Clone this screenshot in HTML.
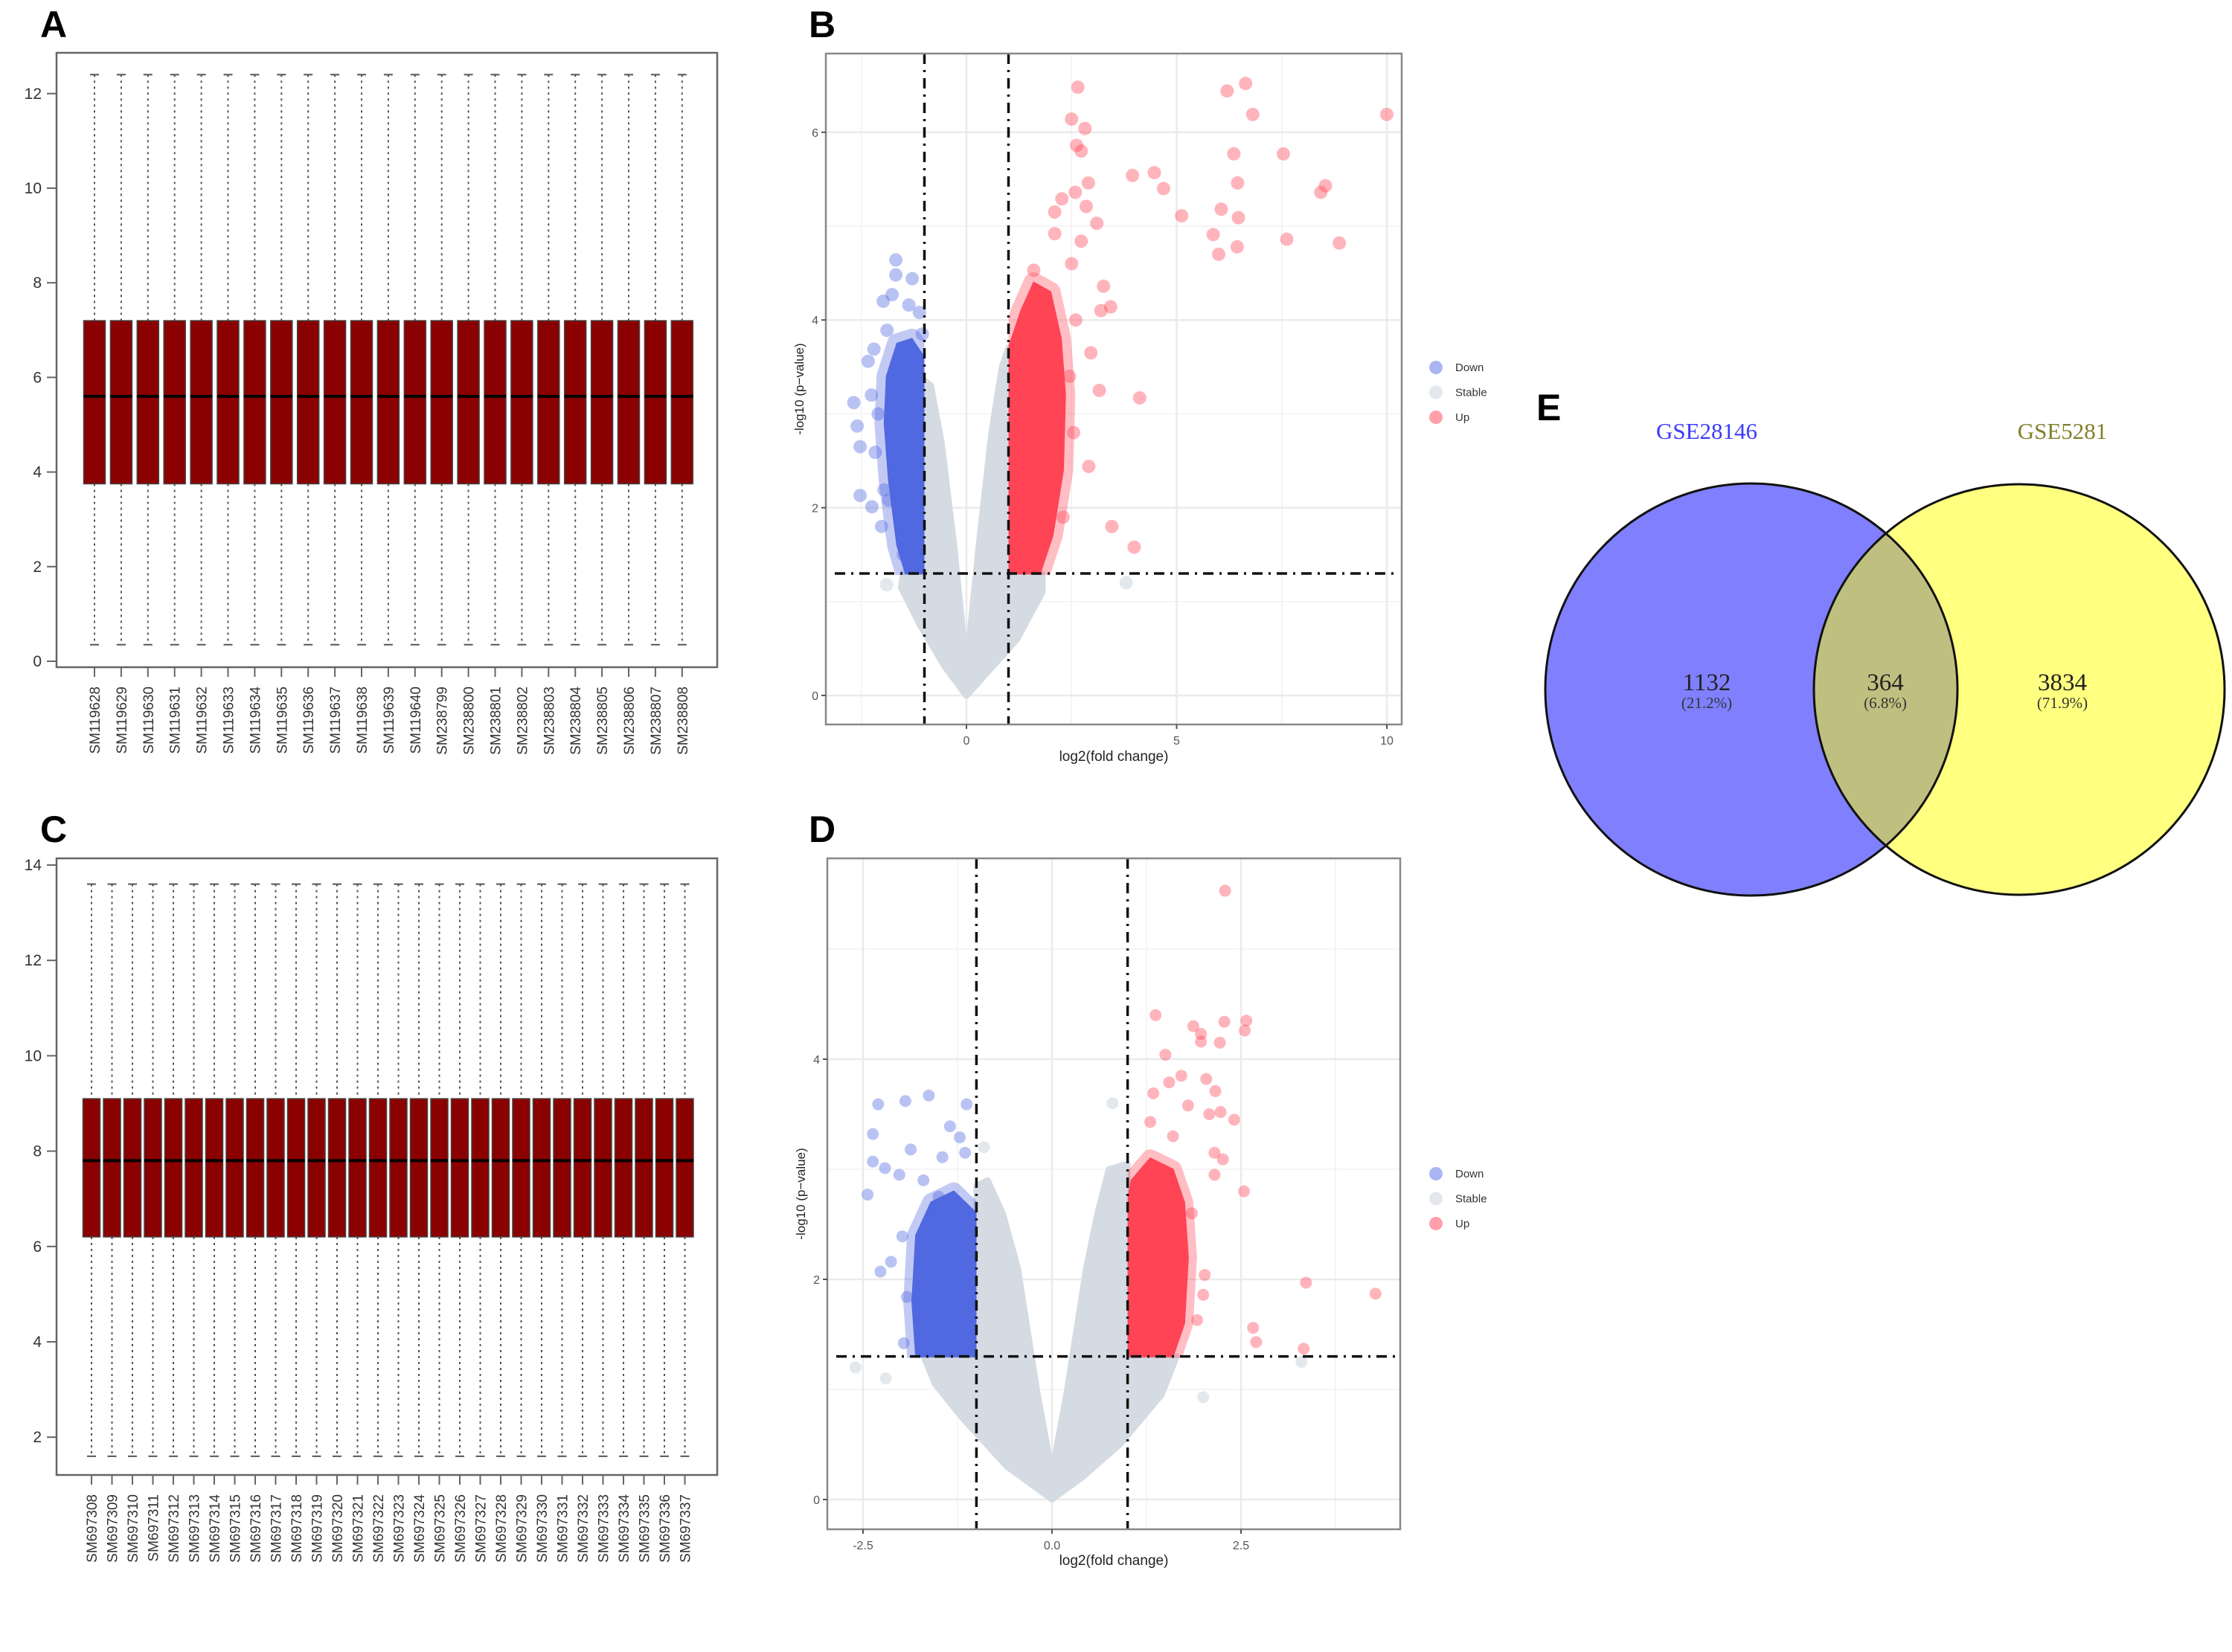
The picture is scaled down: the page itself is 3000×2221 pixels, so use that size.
<!DOCTYPE html>
<html><head><meta charset="utf-8"><style>
html,body{margin:0;padding:0;background:#fff;width:3000px;height:2221px;overflow:hidden}
svg{display:block}
</style></head><body>
<svg id="fig" width="3000" height="2221" viewBox="0 0 3000 2221" xmlns="http://www.w3.org/2000/svg" font-family="Liberation Sans, sans-serif"></svg>
<script>
// ---------- Data: boxplots ----------
const samplesA = ["SM119628","SM119629","SM119630","SM119631","SM119632","SM119633","SM119634","SM119635","SM119636","SM119637","SM119638","SM119639","SM119640","SM238799","SM238800","SM238801","SM238802","SM238803","SM238804","SM238805","SM238806","SM238807","SM238808"];
const statsA = [0.35, 3.75, 5.6, 7.2, 12.4]; // min, q1, median, q3, max
const ticksA = [0,2,4,6,8,10,12];
const samplesC = [];
for (let i = 308; i <= 337; i++) samplesC.push("SM697" + i);
const statsC = [1.6, 6.2, 7.8, 9.1, 13.6];
const ticksC = [2,4,6,8,10,12,14];

// ---------- Data: volcano B ----------
const bXTicks = [0,5,10];
const bYTicks = [0,2,4,6];
const bStable = [[0,0],[-0.5,0.3],[-1.1,0.75],[-1.55,1.15],[-1.5,1.3],[-1,1.3],[-1,3.35],[-0.85,3.3],[-0.6,2.7],[-0.3,1.6],[-0.05,0.5],[0,0.4],[0.05,0.5],[0.3,1.6],[0.6,2.8],[0.85,3.5],[1,3.7],[1,1.3],[1.8,1.3],[1.8,1.1],[1.2,0.6],[0.5,0.25]];
const bDownCore = [[-1,1.3],[-1.45,1.3],[-1.65,1.6],[-1.85,2.3],[-1.95,2.9],[-1.9,3.4],[-1.65,3.75],[-1.3,3.8],[-1,3.6]];
const bUpCore = [[1,1.3],[1.75,1.3],[2.05,1.7],[2.3,2.4],[2.35,3.2],[2.25,3.8],[2.0,4.3],[1.6,4.4],[1.3,4.1],[1.0,3.7]];
const bDownX = [-1.68,-1.68,-1.29,-1.98,-1.77,-1.37,-1.12,-1.89,-1.05,-2.2,-2.34,-2.68,-2.26,-2.6,-2.53,-2.17,-2.53,-2.25,-2.02,-1.96,-1.85,-2.1,-1.5];
const bDownY = [4.64,4.48,4.44,4.2,4.27,4.16,4.08,3.89,3.85,3.69,3.56,3.12,3.2,2.87,2.65,2.59,2.13,2.01,1.8,2.19,2.08,3.0,1.5];
const bUpX = [2.65,2.5,2.82,2.62,2.73,2.9,2.59,2.27,2.85,2.1,3.1,2.1,2.73,1.6,3.26,3.43,3.2,2.96,3.16,2.91,3.46,3.99,4.12,3.95,4.47,4.69,5.12,6.2,6.64,6.81,10.0,6.36,7.54,6.45,8.54,8.43,6.06,6.47,5.87,7.62,6.44,8.87,6.0,2.5,2.6,2.45,2.55,2.3];
const bUpY = [6.48,6.14,6.04,5.86,5.8,5.46,5.36,5.29,5.21,5.15,5.03,4.92,4.84,4.53,4.36,4.14,4.1,3.65,3.25,2.44,1.8,1.58,3.17,5.54,5.57,5.4,5.11,6.44,6.52,6.19,6.19,5.77,5.77,5.46,5.43,5.36,5.18,5.09,4.91,4.86,4.78,4.82,4.7,4.6,4.0,3.4,2.8,1.9];

// ---------- Data: volcano D ----------
const dXTicks = [-2.5,0,2.5];
const dXLabels = ["-2.5","0.0","2.5"];
const dYTicks = [0,2,4];
const dStable = [[0,0],[-0.6,0.3],[-1.2,0.75],[-1.55,1.05],[-1.7,1.3],[-1,1.3],[-1,2.85],[-0.85,2.9],[-0.65,2.6],[-0.45,2.1],[-0.2,1.0],[0,0.25],[0.2,1.0],[0.45,2.1],[0.6,2.6],[0.75,3.0],[1,3.05],[1,1.3],[1.65,1.3],[1.45,0.95],[0.9,0.5],[0.4,0.2]];
const dDownCore = [[-1,1.3],[-1.8,1.3],[-1.85,1.8],[-1.8,2.4],[-1.6,2.7],[-1.3,2.8],[-1.0,2.6]];
const dUpCore = [[1,1.3],[1.6,1.3],[1.75,1.6],[1.8,2.2],[1.75,2.7],[1.6,3.0],[1.3,3.1],[1.05,2.9],[1,2.7]];
const dStableX = [-2.6,-2.2,2.0,3.3,-0.9,0.8];
const dStableY = [1.2,1.1,0.93,1.25,3.2,3.6];
const dDownX = [-2.3,-1.94,-1.63,-1.13,-2.37,-1.35,-1.22,-1.87,-2.37,-2.21,-2.02,-2.44,-1.45,-1.15,-2.13,-2.27,-1.92,-1.96,-1.98,-1.7,-1.5];
const dDownY = [3.59,3.62,3.67,3.59,3.32,3.39,3.29,3.18,3.07,3.01,2.95,2.77,3.11,3.15,2.16,2.07,1.84,1.42,2.39,2.9,2.75];
const dUpX = [2.29,1.37,2.28,2.57,2.55,1.87,1.97,1.97,2.22,1.5,1.71,1.55,2.04,1.34,2.16,1.8,2.23,2.41,1.3,2.08,2.15,2.26,2.54,2.15,3.36,4.28,2.66,2.7,3.33,2.0,1.92,2.02,1.6,1.85];
const dUpY = [5.53,4.4,4.34,4.35,4.26,4.3,4.23,4.16,4.15,4.04,3.85,3.79,3.82,3.69,3.71,3.58,3.52,3.45,3.43,3.5,3.15,3.09,2.8,2.95,1.97,1.87,1.56,1.43,1.37,1.86,1.63,2.04,3.3,2.6];

// ---------- Data: Venn ----------
const vennSets = ["GSE28146","GSE5281"];
const vennCounts = [1132, 364, 3834];
const vennPct = ["(21.2%)","(6.8%)","(71.9%)"];

// ---------- helpers ----------
const NS = "http://www.w3.org/2000/svg";
const svg = document.getElementById("fig");
function mk(tag, attrs, parent) {
  const e = document.createElementNS(NS, tag);
  for (const k in attrs) e.setAttribute(k, attrs[k]);
  (parent || svg).appendChild(e);
  return e;
}
function txt(str, attrs, parent) {
  const e = mk("text", attrs, parent);
  e.textContent = str;
  return e;
}

// panel letters
[["A",54,50],["B",1087,50],["C",54,1132],["D",1087,1132],["E",2065,565]].forEach(p => {
  const t = txt(p[0], {x:p[1], y:p[2], "font-size":50, "font-weight":"bold", fill:"#000"});
  
  
});

// ---------- boxplot ----------
function boxplot(key, samples, stats, ticks, frame, yAt, spacing, firstX, bw) {
  const g = mk("g", {});
  
  
  const fr = mk("rect", {x:frame[0], y:frame[1], width:frame[2]-frame[0], height:frame[3]-frame[1], fill:"none", stroke:"#666", "stroke-width":2.5}, g);
  
  
  ticks.forEach(v => {
    const y = yAt(v);
    mk("line", {x1:frame[0]-13, x2:frame[0], y1:y, y2:y, stroke:"#666", "stroke-width":2}, g);
    const t = txt(String(v), {x:frame[0]-20, y:y+7, "text-anchor":"end", "font-size":21, fill:"#333"}, g);
    
    
  });
  samples.forEach((s, i) => {
    const cx = firstX + i * spacing;
    const b = mk("g", {}, g);
    
    
    mk("line", {x1:cx, x2:cx, y1:yAt(stats[4]), y2:yAt(stats[3]), stroke:"#555", "stroke-width":2, "stroke-dasharray":"3 5"}, b);
    mk("line", {x1:cx, x2:cx, y1:yAt(stats[1]), y2:yAt(stats[0]), stroke:"#555", "stroke-width":2, "stroke-dasharray":"3 5"}, b);
    mk("line", {x1:cx-6, x2:cx+6, y1:yAt(stats[4]), y2:yAt(stats[4]), stroke:"#555", "stroke-width":2}, b);
    mk("line", {x1:cx-6, x2:cx+6, y1:yAt(stats[0]), y2:yAt(stats[0]), stroke:"#555", "stroke-width":2}, b);
    mk("rect", {x:cx-bw/2, y:yAt(stats[3]), width:bw, height:yAt(stats[1])-yAt(stats[3]), fill:"#8b0000", stroke:"#444", "stroke-width":1.5}, b);
    mk("line", {x1:cx-bw/2, x2:cx+bw/2, y1:yAt(stats[2]), y2:yAt(stats[2]), stroke:"#000", "stroke-width":4}, b);
    mk("line", {x1:cx, x2:cx, y1:frame[3], y2:frame[3]+13, stroke:"#666", "stroke-width":2}, g);
    const t = txt(s, {x:0, y:0, transform:`translate(${cx+7},${frame[3]+26}) rotate(-90)`, "text-anchor":"end", "font-size":19, fill:"#333"}, g);
    
    
  });
}
boxplot("a", samplesA, statsA, ticksA, [76,71,964,897], v => 889 - 63.6*v, 35.9, 127, 29);
boxplot("c", samplesC, statsC, ticksC, [76,1154,964,1983], v => 1163 + (14-v)*64.1, 27.5, 123, 23);

// ---------- volcano ----------
function volcano(key, cfg) {
  const {frame, x0, sx, y0, sy, xt, xl, yt, minX, minY, stable, downCore, upCore, dx, dy, ux, uy, gx, gy, r, legY, xTitleY} = cfg;
  const X = v => x0 + v*sx, Y = v => y0 - v*sy;
  const g = mk("g", {});
  
  
  const defs = mk("defs", {}, g);
  const cp = mk("clipPath", {id:"clip" + key}, defs);
  mk("rect", {x:frame[0], y:frame[1], width:frame[2]-frame[0], height:frame[3]-frame[1]}, cp);
  const cpd = mk("clipPath", {id:"clipd" + key}, defs);
  mk("rect", {x:frame[0], y:frame[1], width:X(-1)-frame[0], height:Y(1.3)-frame[1]+2}, cpd);
  const cpu = mk("clipPath", {id:"clipu" + key}, defs);
  mk("rect", {x:X(1), y:frame[1], width:frame[2]-X(1), height:Y(1.3)-frame[1]+2}, cpu);
  // grid
  minX.forEach(v => mk("line", {x1:X(v), x2:X(v), y1:frame[1], y2:frame[3], stroke:"#f2f2f2", "stroke-width":1.5}, g));
  minY.forEach(v => mk("line", {x1:frame[0], x2:frame[2], y1:Y(v), y2:Y(v), stroke:"#f2f2f2", "stroke-width":1.5}, g));
  xt.forEach(v => mk("line", {x1:X(v), x2:X(v), y1:frame[1], y2:frame[3], stroke:"#ebebeb", "stroke-width":2.5}, g));
  yt.forEach(v => mk("line", {x1:frame[0], x2:frame[2], y1:Y(v), y2:Y(v), stroke:"#ebebeb", "stroke-width":2.5}, g));
  const pts = mk("g", {"clip-path":`url(#clip${key})`}, g);
  const poly = (arr, fill, name, sw, parent) => {
    const p = mk("polygon", {points: arr.map(q => X(q[0]) + "," + Y(q[1])).join(" "), fill:fill, stroke:fill, "stroke-width":sw, "stroke-linejoin":"round"}, parent);
    
    
  };
  poly(stable, "#d4dbe2", "stable-cloud", r, pts);
  gx.forEach((v, i) => mk("circle", {cx:X(v), cy:Y(gy[i]), r:r, fill:"rgba(200,210,220,0.5)"}, pts));
  const dg = mk("g", {"clip-path":`url(#clipd${key})`}, pts);
  poly(downCore, "rgba(80,104,224,0.35)", "down-halo", 3*r, dg);
  poly(downCore, "#5068e0", "down-cloud", 2, dg);
  const ug = mk("g", {"clip-path":`url(#clipu${key})`}, pts);
  poly(upCore, "rgba(255,68,86,0.35)", "up-halo", 3*r, ug);
  poly(upCore, "#ff4456", "up-cloud", 2, ug);
  dx.forEach((v, i) => {
    const c = mk("circle", {cx:X(v), cy:Y(dy[i]), r:r, fill:"rgba(80,104,224,0.4)"}, pts);
    
    
  });
  ux.forEach((v, i) => {
    const c = mk("circle", {cx:X(v), cy:Y(uy[i]), r:r, fill:"rgba(255,68,86,0.4)"}, pts);
    
    
  });
  // threshold lines
  [-1,1].forEach(v => mk("line", {x1:X(v), x2:X(v), y1:frame[1], y2:frame[3], stroke:"#111", "stroke-width":3.5, "stroke-dasharray":"14 8 3 8"}, g));
  mk("line", {x1:frame[0]+12, x2:frame[2]-6, y1:Y(1.3), y2:Y(1.3), stroke:"#111", "stroke-width":3.5, "stroke-dasharray":"14 8 3 8"}, g);
  const fr = mk("rect", {x:frame[0], y:frame[1], width:frame[2]-frame[0], height:frame[3]-frame[1], fill:"none", stroke:"#888", "stroke-width":2.5}, g);
  
  
  xt.forEach((v, i) => {
    mk("line", {x1:X(v), x2:X(v), y1:frame[3], y2:frame[3]+6, stroke:"#555", "stroke-width":2}, g);
    const t = txt(xl[i], {x:X(v), y:frame[3]+27, "text-anchor":"middle", "font-size":16, fill:"#555"}, g);
    
    
  });
  yt.forEach(v => {
    mk("line", {x1:frame[0]-6, x2:frame[0], y1:Y(v), y2:Y(v), stroke:"#555", "stroke-width":2}, g);
    const t = txt(String(v), {x:frame[0]-10, y:Y(v)+6, "text-anchor":"end", "font-size":16, fill:"#555"}, g);
    
    
  });
  const xtitle = txt("log2(fold change)", {x:(frame[0]+frame[2])/2, y:xTitleY, "text-anchor":"middle", "font-size":19, fill:"#222"}, g);
  
  
  const ym = (frame[1]+frame[3])/2;
  const ytitle = txt("-log10 (p\u2212value)", {x:0, y:0, transform:`translate(${frame[0]-30},${ym}) rotate(-90)`, "text-anchor":"middle", "font-size":17, fill:"#222"}, g);
  
  
  [["Down","#aab6f2"],["Stable","#e4e8ec"],["Up","#ffa0aa"]].forEach((L, i) => {
    const lg = mk("g", {}, g);
    
    
    mk("circle", {cx:1930, cy:legY + i*33.5, r:9, fill:L[1]}, lg);
    txt(L[0], {x:1956, y:legY + i*33.5 + 5, "font-size":15, fill:"#333"}, lg);
  });
}
volcano("b", {frame:[1110,72,1884,974], x0:1299, sx:56.5, y0:935, sy:126.2, xt:bXTicks, xl:bXTicks.map(String), yt:bYTicks, minX:[-2.5,2.5,7.5], minY:[1,3,5],
  stable:bStable, downCore:bDownCore, upCore:bUpCore, dx:bDownX, dy:bDownY, ux:bUpX, uy:bUpY, gx:[-1.9,3.8], gy:[1.18,1.2], r:9, legY:494, xTitleY:1023});
volcano("d", {frame:[1112,1154,1882,2056], x0:1414, sx:101.6, y0:2016, sy:148, xt:dXTicks, xl:dXLabels, yt:dYTicks, minX:[-1.25,1.25,3.75], minY:[1,3,5],
  stable:dStable, downCore:dDownCore, upCore:dUpCore, dx:dDownX, dy:dDownY, ux:dUpX, uy:dUpY, gx:dStableX, gy:dStableY, r:8, legY:1578, xTitleY:2104});

// ---------- Venn ----------
const vg = mk("g", {});


const cL = [2354, 927, 277], cR = [2714, 927, 276];
const vcp = mk("clipPath", {id:"vclip"}, vg);
mk("circle", {cx:cL[0], cy:cL[1], r:cL[2]}, vcp);
const c1 = mk("circle", {cx:cL[0], cy:cL[1], r:cL[2], fill:"#8080ff"}, vg);


const c2 = mk("circle", {cx:cR[0], cy:cR[1], r:cR[2], fill:"#ffff80"}, vg);


const ci = mk("circle", {cx:cR[0], cy:cR[1], r:cR[2], fill:"#bfbf80", "clip-path":"url(#vclip)"}, vg);


mk("circle", {cx:cL[0], cy:cL[1], r:cL[2], fill:"none", stroke:"#111", "stroke-width":3}, vg);
mk("circle", {cx:cR[0], cy:cR[1], r:cR[2], fill:"none", stroke:"#111", "stroke-width":3}, vg);
const serif = 'Liberation Serif, Noto Serif CJK SC, serif';
const t1 = txt(vennSets[0], {x:2294, y:590, "text-anchor":"middle", "font-size":31, fill:"#3a3aff", "font-family":serif}, vg);


const t2 = txt(vennSets[1], {x:2772, y:590, "text-anchor":"middle", "font-size":31, fill:"#80802a", "font-family":serif}, vg);


[2294, 2534, 2772].forEach((x, i) => {
  const n = txt(String(vennCounts[i]), {x:x, y:928, "text-anchor":"middle", "font-size":33, fill:"#222", "font-family":serif}, vg);
  
  
  const p = txt(vennPct[i], {x:x, y:952, "text-anchor":"middle", "font-size":21, fill:"#333", "font-family":serif}, vg);
  
  
});
</script>
</body></html>
